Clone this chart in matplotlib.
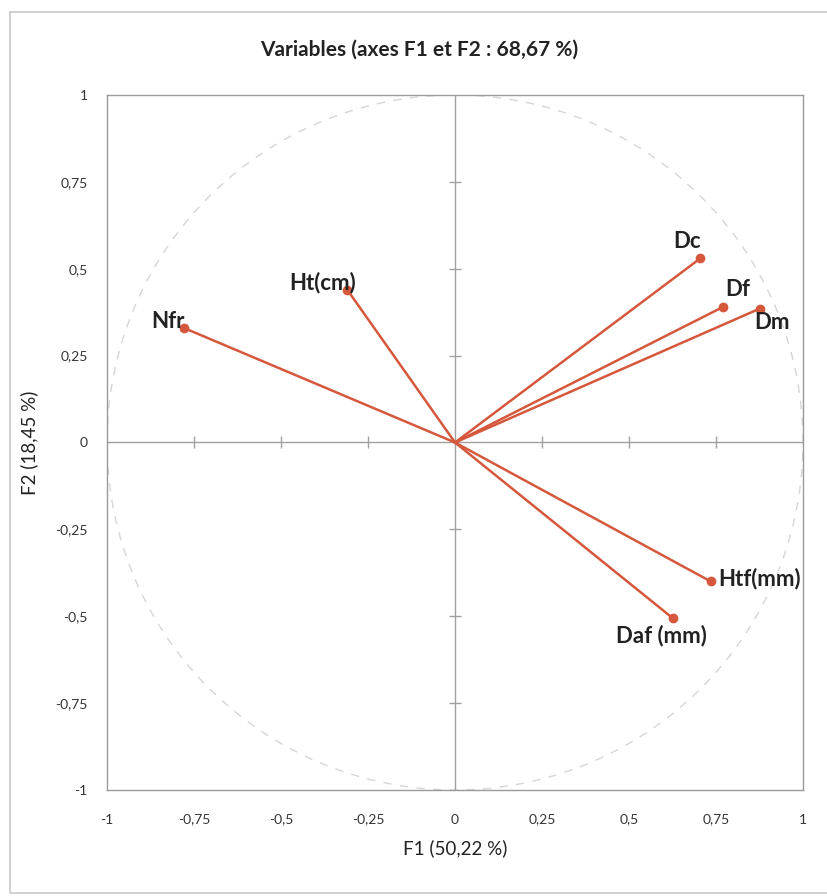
import numpy as np
import matplotlib
matplotlib.use("Agg")
import matplotlib.pyplot as plt
from matplotlib.patches import Rectangle

# correlation circle data (F1, F2)
variables = ["Nfr", "Ht(cm)", "Dc", "Df", "Dm", "Htf(mm)", "Daf (mm)"]
f1 = [-0.78, -0.31, 0.705, 0.77, 0.875, 0.735, 0.625]
f2 = [0.33, 0.44, 0.53, 0.39, 0.385, -0.40, -0.505]
# label offsets in pixels (dx, dy)
label_dx = [-16, -25, -13, 15, 12, 49, -11]
label_dy = [6, 7, 17, 17, -14, 3, -18]

ticks = [-1, -0.75, -0.5, -0.25, 0, 0.25, 0.5, 0.75, 1]
tick_labels = ["-1", "-0,75", "-0,5", "-0,25", "0", "0,25", "0,5", "0,75", "1"]

plt.rcParams['font.family'] = ['Lato', 'DejaVu Sans']

fig = plt.figure(figsize=(8.27, 8.96), dpi=100)
fig.patches.append(Rectangle((0.012, 0.003), 1.0, 0.984, transform=fig.transFigure,
                             fill=False, edgecolor='#c8c8c8', linewidth=1.2))
ax = fig.add_axes([0.1294, 0.1183, 0.8416, 0.7757])

# circle (very faint in the original)
t = np.linspace(0, 2 * np.pi, 400)
ax.plot(np.cos(t), np.sin(t), color='#d6d6d6', linestyle=(0, (6, 6)), linewidth=1)

# axes through zero with tick crosses
ax.axhline(0, color='#a0a0a0', linewidth=1)
ax.axvline(0, color='#a0a0a0', linewidth=1)
inner = [v for v in ticks if v not in (-1, 0, 1)]
ax.plot(inner, [0] * len(inner), linestyle='none', marker='|', markersize=8, color='#a0a0a0')
ax.plot([0] * len(inner), inner, linestyle='none', marker='_', markersize=8, color='#a0a0a0')

# vectors
for x, y, name, dx, dy in zip(f1, f2, variables, label_dx, label_dy):
    ax.plot([0, x], [0, y], color='#d5583c', linewidth=1.8)
    ax.plot(x, y, 'o', color='#d5583c', markersize=6)
    ax.annotate(name, (x, y), xytext=(dx, dy), textcoords='offset pixels',
                ha='center', va='center', fontsize=16, fontweight='bold',
                color='#222222')

ax.set_xlim(-1, 1)
ax.set_ylim(-1, 1)
ax.set_xticks(ticks)
ax.set_xticklabels(tick_labels)
ax.set_yticks(ticks)
ax.set_yticklabels(tick_labels)
ax.tick_params(length=0, labelsize=10, colors='#333333')
ax.tick_params(axis='x', pad=17)
ax.tick_params(axis='y', pad=14)
for s in ax.spines.values():
    s.set_color('#9a9a9a')
    s.set_linewidth(1)

ax.set_xlabel("F1 (50,22 %)", fontsize=13.5, labelpad=10, color='#222222')
ax.set_ylabel("F2 (18,45 %)", fontsize=13.5, labelpad=12, color='#222222')
fig.text(0.507, 0.945, "Variables (axes F1 et F2 : 68,67 %)", ha='center', va='center',
         fontsize=15, fontweight='bold', color='#222222')

fig.savefig("out.png", dpi=100)
